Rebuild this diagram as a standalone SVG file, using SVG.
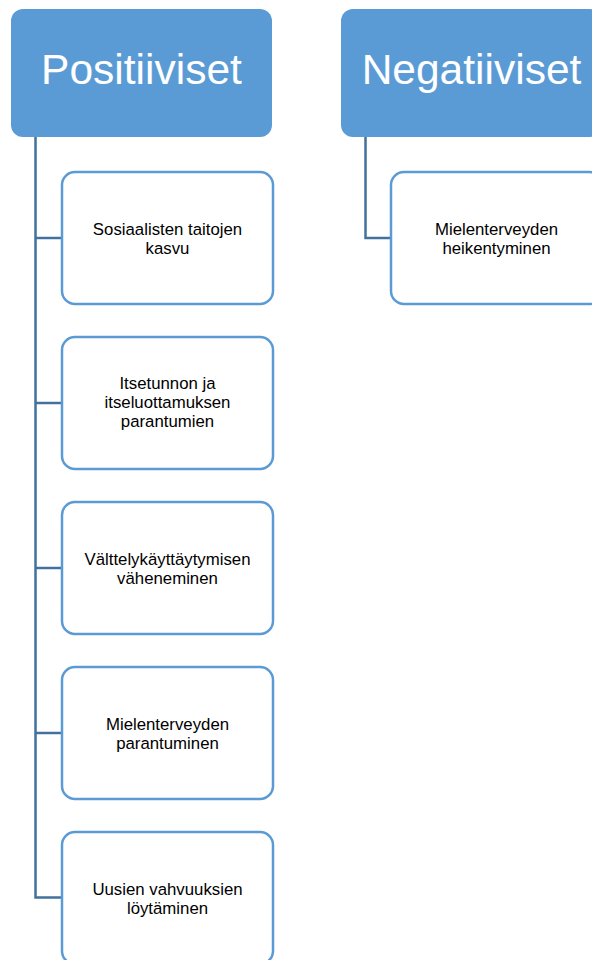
<svg xmlns="http://www.w3.org/2000/svg" width="592" height="960" viewBox="0 0 592 960">
<style>
.hdr{fill:#5B9BD5;}
.hdrtxt{fill:#FFFFFF;font-family:"Liberation Sans",Arial,sans-serif;font-size:42.5px;text-anchor:middle;}
.box{fill:#FFFFFF;stroke:#5B9BD5;stroke-width:2.5;}
.txt{fill:#000000;font-family:"Liberation Sans",Arial,sans-serif;font-size:16.8px;text-anchor:middle;}
.conn{fill:none;stroke:#41719C;stroke-width:2.5;}
</style>
<rect width="592" height="960" fill="#FFFFFF"/>
<g id="connectors">
<path class="conn" d="M35.5 137 V897.5 H62"/>
<path class="conn" d="M35.5 238 H62"/>
<path class="conn" d="M35.5 403 H62"/>
<path class="conn" d="M35.5 568 H62"/>
<path class="conn" d="M35.5 733 H62"/>
<path class="conn" d="M365.5 137 V238 H391"/>
</g>
<g id="positiiviset">
<rect class="hdr" x="11" y="9" width="261" height="128" rx="12"/>
<text class="hdrtxt" x="141.5" y="83.5">Positiiviset</text>
</g>
<g id="negatiiviset">
<rect class="hdr" x="341" y="9" width="261" height="128" rx="12"/>
<text class="hdrtxt" x="471.5" y="83.5">Negatiiviset</text>
</g>
<g id="p1">
<rect class="box" x="62" y="172" width="211" height="132" rx="13"/>
<text class="txt" x="167.5" y="235">Sosiaalisten taitojen</text>
<text class="txt" x="167.5" y="254">kasvu</text>
</g>
<g id="p2">
<rect class="box" x="62" y="337" width="211" height="132" rx="13"/>
<text class="txt" x="167.5" y="388.5">Itsetunnon ja</text>
<text class="txt" x="167.5" y="407.5">itseluottamuksen</text>
<text class="txt" x="167.5" y="426.5">parantumien</text>
</g>
<g id="p3">
<rect class="box" x="62" y="502" width="211" height="132" rx="13"/>
<text class="txt" x="167.5" y="564.5">Välttelykäyttäytymisen</text>
<text class="txt" x="167.5" y="583.5">väheneminen</text>
</g>
<g id="p4">
<rect class="box" x="62" y="667" width="211" height="132" rx="13"/>
<text class="txt" x="167.5" y="729.5">Mielenterveyden</text>
<text class="txt" x="167.5" y="748.5">parantuminen</text>
</g>
<g id="p5">
<rect class="box" x="62" y="832" width="211" height="132" rx="13"/>
<text class="txt" x="167.5" y="894.5">Uusien vahvuuksien</text>
<text class="txt" x="167.5" y="913.5">löytäminen</text>
</g>
<g id="n1">
<rect class="box" x="391" y="172" width="211" height="132" rx="13"/>
<text class="txt" x="496.5" y="235">Mielenterveyden</text>
<text class="txt" x="496.5" y="254">heikentyminen</text>
</g>
</svg>
